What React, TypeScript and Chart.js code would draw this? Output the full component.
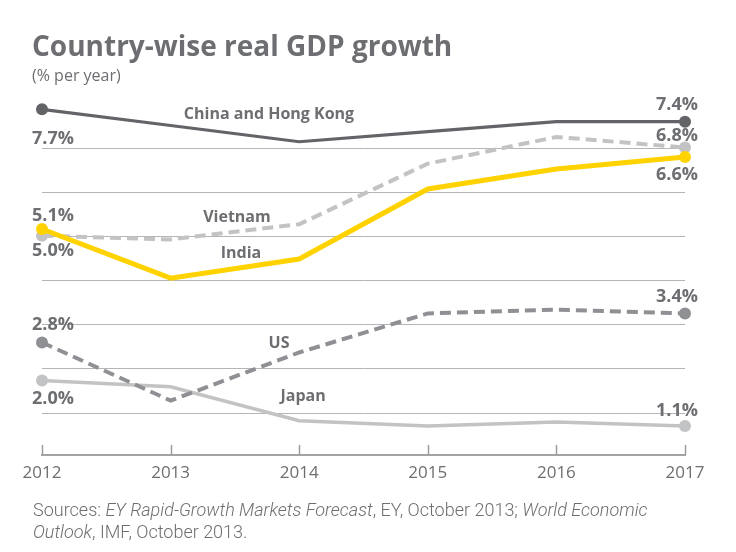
import React, { useEffect, useRef } from "react";
import { Chart, registerables } from "chart.js";

Chart.register(...registerables);

// ---------- data ----------
const YEARS = ["2012", "2013", "2014", "2015", "2016", "2017"];
const SERIES_NAMES = ["India", "China and Hong Kong", "Vietnam", "US", "Japan"];
const INDIA = [5.19, 4.16, 4.56, 6.03, 6.45, 6.7];
const CHINA = [7.7, 7.36, 7.02, 7.23, 7.44, 7.44];
const VIETNAM = [5.05, 4.97, 5.29, 6.56, 7.12, 6.9];
const US = [2.81, 1.59, 2.6, 3.42, 3.5, 3.42];
const JAPAN = [2.01, 1.88, 1.17, 1.06, 1.14, 1.06];
const START_LABELS = ["5.1%", "7.7%", "5.0%", "2.8%", "2.0%"];
const END_LABELS = ["6.6%", "7.4%", "6.8%", "3.4%", "1.1%"];
const GRID_TICKS = [1.33, 2.26, 3.19, 4.11, 5.03, 5.96, 6.88];
const Y_MIN = 0.45;
const Y_MAX = 8.0;

// ---------- styles ----------
const TEXT = "#6d6e71";
const COLORS = ["#ffd200", "#636467", "#c3c3c5", "#8f9093", "#c2c3c5"];
const WIDTHS = [5, 3.2, 4, 4, 3.5];
const DASHES: number[][] = [[], [], [11, 6], [11, 6], []];
// label placement: dy in px relative to the point (negative = above)
const START_DY = [-13, 30, 15, -18, 18];
const END_DY = [18, -17, -12, -17, -15];
// series name anchors (category index, value)
const NAME_ANCHORS = [
  { x: 1.547, y: 4.68 },
  { x: 1.765, y: 7.59 },
  { x: 1.516, y: 5.44 },
  { x: 1.843, y: 2.79 },
  { x: 2.03, y: 1.67 },
];

const labelPlugin = {
  id: "labelPlugin",
  afterDatasetsDraw(chart: any) {
    const ctx = chart.ctx;
    const xs = chart.scales.x;
    const ys = chart.scales.y;
    const area = chart.chartArea;
    ctx.save();
    // upward tick marks on x axis
    ctx.strokeStyle = "#9d9d9f";
    ctx.lineWidth = 1.5;
    xs.ticks.forEach((_t: any, i: number) => {
      const px = Math.round(xs.getPixelForTick(i)) + 0.5;
      ctx.beginPath();
      ctx.moveTo(px, area.bottom - 10);
      ctx.lineTo(px, area.bottom);
      ctx.stroke();
    });
    ctx.fillStyle = TEXT;
    ctx.textBaseline = "middle";
    chart.data.datasets.forEach((_ds: any, i: number) => {
      const meta = chart.getDatasetMeta(i);
      const first = meta.data[0];
      const last = meta.data[meta.data.length - 1];
      ctx.font = 'bold 18px "Open Sans"';
      ctx.textAlign = "left";
      ctx.fillText(START_LABELS[i], first.x - 10, first.y + START_DY[i]);
      ctx.textAlign = "right";
      ctx.fillText(END_LABELS[i], last.x + 13, last.y + END_DY[i]);
      ctx.font = 'bold 16px "Open Sans"';
      ctx.textAlign = "center";
      const a = NAME_ANCHORS[i];
      ctx.fillText(SERIES_NAMES[i], xs.getPixelForValue(a.x), ys.getPixelForValue(a.y));
    });
    ctx.restore();
  },
};

export default function App() {
  const ref = useRef<HTMLCanvasElement>(null);
  useEffect(() => {
    const all = [INDIA, CHINA, VIETNAM, US, JAPAN];
    const chart = new Chart(ref.current!, {
      type: "line",
      data: {
        labels: YEARS,
        datasets: all.map((d, i) => ({
          label: SERIES_NAMES[i],
          data: d,
          borderColor: COLORS[i],
          backgroundColor: COLORS[i],
          borderWidth: WIDTHS[i],
          borderDash: DASHES[i],
          pointRadius: d.map((_v, j) => (j === 0 || j === d.length - 1 ? 6 : 0)),
          pointHoverRadius: 0,
          pointBorderWidth: 0,
          tension: 0,
          clip: false as any,
        })),
      },
      options: {
        animation: false,
        responsive: false,
        events: [],
        layout: { padding: { left: 42, right: 51, top: 95, bottom: 60.6 } },
        plugins: { legend: { display: false }, tooltip: { enabled: false }, title: { display: false } },
        scales: {
          x: {
            type: "category",
            offset: false,
            grid: { display: false, drawTicks: false },
            border: { display: true, color: "#a3a3a5", width: 2 },
            ticks: { color: TEXT, font: { family: "Open Sans", size: 17 }, padding: 8, maxRotation: 0 },
          },
          y: {
            type: "linear",
            min: Y_MIN,
            max: Y_MAX,
            afterBuildTicks: (s: any) => {
              s.ticks = GRID_TICKS.map((v) => ({ value: v }));
            },
            grid: { color: "#b5b5b7", lineWidth: 1, drawTicks: false },
            border: { display: false },
            ticks: { display: false },
          },
        },
      },
      plugins: [labelPlugin],
    });
    return () => chart.destroy();
  }, []);

  return (
    <div style={{ position: "absolute", left: 0, top: 0, width: 736, height: 552, background: "#fff", overflow: "hidden" }}>
      <canvas ref={ref} width={736} height={552} style={{ position: "absolute", left: 0, top: 0 }} />
      <div style={{ position: "absolute", left: 32, top: 26, font: '700 28px "Open Sans"', color: TEXT, whiteSpace: "nowrap" }}>
        Country-wise real GDP growth
      </div>
      <div style={{ position: "absolute", left: 32, top: 64, font: '400 16px "Open Sans"', color: TEXT, whiteSpace: "nowrap" }}>
        (% per year)
      </div>
      <div style={{ position: "absolute", left: 33, top: 499, width: 700, font: '300 18px Roboto', lineHeight: "22px", color: TEXT, whiteSpace: "nowrap" }}>
        Sources: <i>EY Rapid-Growth Markets Forecast</i>, EY, October 2013; <i>World Economic</i>
        <br />
        <i>Outlook</i>, IMF, October 2013.
      </div>
    </div>
  );
}
